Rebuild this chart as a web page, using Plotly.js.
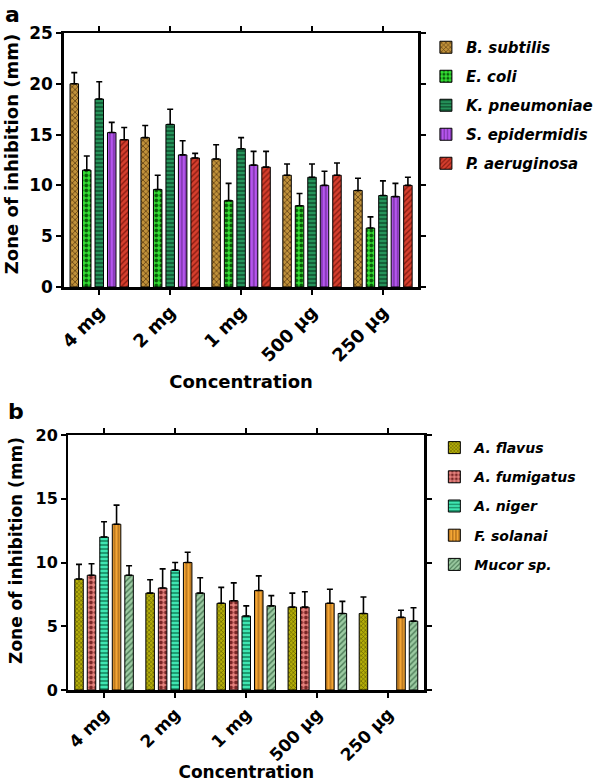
<!DOCTYPE html>
<html>
<head>
<meta charset="utf-8">
<script src="https://cdn.plot.ly/plotly-3.0.1.min.js"></script>
<style>html,body{margin:0;padding:0;background:#fff;}#chart{width:598px;height:782px;}</style>
</head>
<body>
<div id="chart"></div>
<script>
// ---------- Data ----------
const concentrations = ["4 mg", "2 mg", "1 mg", "500 µg", "250 µg"];

// Panel a: bacteria
const bacteriaNames = ["B. subtilis", "E. coli", "K. pneumoniae", "S. epidermidis", "P. aeruginosa"];
const bSubtilis      = [20.0, 14.7, 12.6, 11.0, 9.5];
const bSubtilisErr   = [1.1, 1.2, 1.4, 1.1, 1.2];
const eColi          = [11.5, 9.6, 8.5, 8.0, 5.8];
const eColiErr       = [1.4, 1.4, 1.7, 1.2, 1.1];
const kPneumoniae    = [18.5, 16.0, 13.6, 10.8, 9.0];
const kPneumoniaeErr = [1.7, 1.5, 1.1, 1.3, 1.45];
const sEpidermidis   = [15.2, 13.0, 12.0, 10.0, 8.9];
const sEpidermidisErr= [1.0, 1.4, 1.35, 1.4, 1.3];
const pAeruginosa    = [14.5, 12.7, 11.8, 11.0, 10.0];
const pAeruginosaErr = [1.2, 0.45, 1.55, 1.2, 0.8];

// Panel b: fungi (null = no zone)
const fungiNames = ["A. flavus", "A. fumigatus", "A. niger", "F. solanai", "Mucor sp."];
const aFlavus        = [8.7, 7.6, 6.8, 6.5, 6.0];
const aFlavusErr     = [1.15, 1.05, 1.25, 1.1, 1.3];
const aFumigatus     = [9.0, 8.0, 7.0, 6.5, null];
const aFumigatusErr  = [0.9, 1.5, 1.4, 1.2, null];
const aNiger         = [12.0, 9.4, 5.8, null, null];
const aNigerErr      = [1.2, 0.6, 0.8, null, null];
const fSolanai       = [13.0, 10.0, 7.8, 6.8, 5.7];
const fSolanaiErr    = [1.5, 0.8, 1.15, 1.1, 0.55];
const mucor          = [9.0, 7.6, 6.6, 6.0, 5.4];
const mucorErr       = [0.75, 1.2, 0.8, 0.95, 1.05];

const yTicksA = [0, 5, 10, 15, 20, 25];
const yTicksB = [0, 5, 10, 15, 20];

// ---------- Styles ----------
const bacteriaStyles = [
  {bg: "#c0913a", fg: "#5e3e12", shape: "x", size: 4, solidity: 0.35},
  {bg: "#33e033", fg: "#0a5a0a", shape: ".", size: 5, solidity: 0.45},
  {bg: "#25935a", fg: "#0e4a2a", shape: "-", size: 4, solidity: 0.35},
  {bg: "#b655ee", fg: "#6a2a92", shape: "|", size: 4, solidity: 0.3},
  {bg: "#d63f2e", fg: "#8a1c12", shape: "/", size: 4, solidity: 0.35}
];
const fungiStyles = [
  {bg: "#b4ae08", fg: "#5e5a00", shape: "x", size: 3, solidity: 0.35},
  {bg: "#e8847f", fg: "#7a2626", shape: ".", size: 5, solidity: 0.45},
  {bg: "#3fe6b2", fg: "#0f7a55", shape: "-", size: 4, solidity: 0.35},
  {bg: "#f4a634", fg: "#9a5c12", shape: "|", size: 4, solidity: 0.3},
  {bg: "#9ccba2", fg: "#4b7a56", shape: "/", size: 4, solidity: 0.35}
];

const bacteriaVals = [bSubtilis, eColi, kPneumoniae, sEpidermidis, pAeruginosa];
const bacteriaErrs = [bSubtilisErr, eColiErr, kPneumoniaeErr, sEpidermidisErr, pAeruginosaErr];
const fungiVals = [aFlavus, aFumigatus, aNiger, fSolanai, mucor];
const fungiErrs = [aFlavusErr, aFumigatusErr, aNigerErr, fSolanaiErr, mucorErr];

function makeTrace(name, y, err, st, xa, ya, leg, grp) {
  return {
    type: "bar", name: name, x: concentrations, y: y,
    xaxis: xa, yaxis: ya, legend: leg, legendgroup: grp,
    marker: {
      color: st.bg,
      line: {color: "#000", width: 1},
      pattern: {shape: st.shape, fgcolor: st.fg, bgcolor: st.bg, size: st.size, solidity: st.solidity}
    },
    error_y: {
      type: "data", symmetric: false, array: err,
      arrayminus: err.map(v => v === null ? null : 0),
      color: "#000", thickness: 1.6, width: 3
    }
  };
}

const traces = [];
bacteriaNames.forEach((n, i) => traces.push(makeTrace(n, bacteriaVals[i], bacteriaErrs[i], bacteriaStyles[i], "x", "y", "legend", "a" + i)));
fungiNames.forEach((n, i) => traces.push(makeTrace(n, fungiVals[i], fungiErrs[i], fungiStyles[i], "x2", "y2", "legend2", "b" + i)));

const FONT = "DejaVu Sans, Verdana, sans-serif";
const W = 598, H = 782;
function px(v) { return v / W; }
function py(v) { return (H - v) / H; }

const axisCommon = {
  showline: true, linecolor: "#000", linewidth: 2.5, mirror: "ticks",
  ticks: "outside", ticklen: 5, tickwidth: 2, tickcolor: "#000",
  showgrid: false, zeroline: false, fixedrange: true
};

const layout = {
  width: W, height: H,
  margin: {l: 0, r: 0, t: 0, b: 0},
  paper_bgcolor: "#fff", plot_bgcolor: "#fff",
  font: {family: FONT, color: "#000"},
  barmode: "group", bargap: 0.12, bargroupgap: 0.32,
  showlegend: true,
  xaxis: Object.assign({}, axisCommon, {
    domain: [px(68), px(446)], anchor: "y", type: "category",
    tickangle: -45, tickfont: {family: FONT, size: 18, weight: "bold"},
    title: {text: "<b>Concentration</b>", font: {family: FONT, size: 18}, standoff: 11}
  }),
  yaxis: Object.assign({}, axisCommon, {
    domain: [py(287), py(33)], anchor: "x", range: [0, 25],
    tickvals: yTicksA, ticktext: yTicksA.map(String),
    tickfont: {family: FONT, size: 17, weight: "bold"}
  }),
  xaxis2: Object.assign({}, axisCommon, {
    domain: [px(73), px(452)], anchor: "y2", type: "category",
    tickangle: -45, tickfont: {family: FONT, size: 17, weight: "bold"},
    title: {text: "<b>Concentration</b>", font: {family: FONT, size: 17}, standoff: 17}
  }),
  yaxis2: Object.assign({}, axisCommon, {
    domain: [py(690), py(435)], anchor: "x2", range: [0, 20],
    tickvals: yTicksB, ticktext: yTicksB.map(String),
    tickfont: {family: FONT, size: 16, weight: "bold"}
  }),
  legend: {
    x: px(454), y: py(31), xanchor: "left", yanchor: "top",
    font: {family: FONT, size: 15, weight: "bold", style: "italic"},
    tracegroupgap: 6.5, bgcolor: "rgba(0,0,0,0)", itemwidth: 30
  },
  legend2: {
    x: px(463), y: py(432), xanchor: "left", yanchor: "top",
    font: {family: FONT, size: 14, weight: "bold", style: "italic"},
    tracegroupgap: 8, bgcolor: "rgba(0,0,0,0)", itemwidth: 30
  },
  annotations: [
    {text: "<b>a</b>", x: px(3), y: py(0), xref: "paper", yref: "paper", xanchor: "left", yanchor: "top",
     showarrow: false, font: {family: FONT, size: 22}},
    {text: "<b>b</b>", x: px(6), y: py(397), xref: "paper", yref: "paper", xanchor: "left", yanchor: "top",
     showarrow: false, font: {family: FONT, size: 22}},
    {text: "<b>Zone of inhibition (mm)</b>", textangle: -90, x: px(13), y: py(154), xref: "paper", yref: "paper",
     xanchor: "center", yanchor: "middle", showarrow: false, font: {family: FONT, size: 18}},
    {text: "<b>Zone of inhibition (mm)</b>", textangle: -90, x: px(17), y: py(550), xref: "paper", yref: "paper",
     xanchor: "center", yanchor: "middle", showarrow: false, font: {family: FONT, size: 17}}
  ]
};

Plotly.newPlot("chart", traces, layout, {displayModeBar: false, staticPlot: true});
</script>
</body>
</html>
